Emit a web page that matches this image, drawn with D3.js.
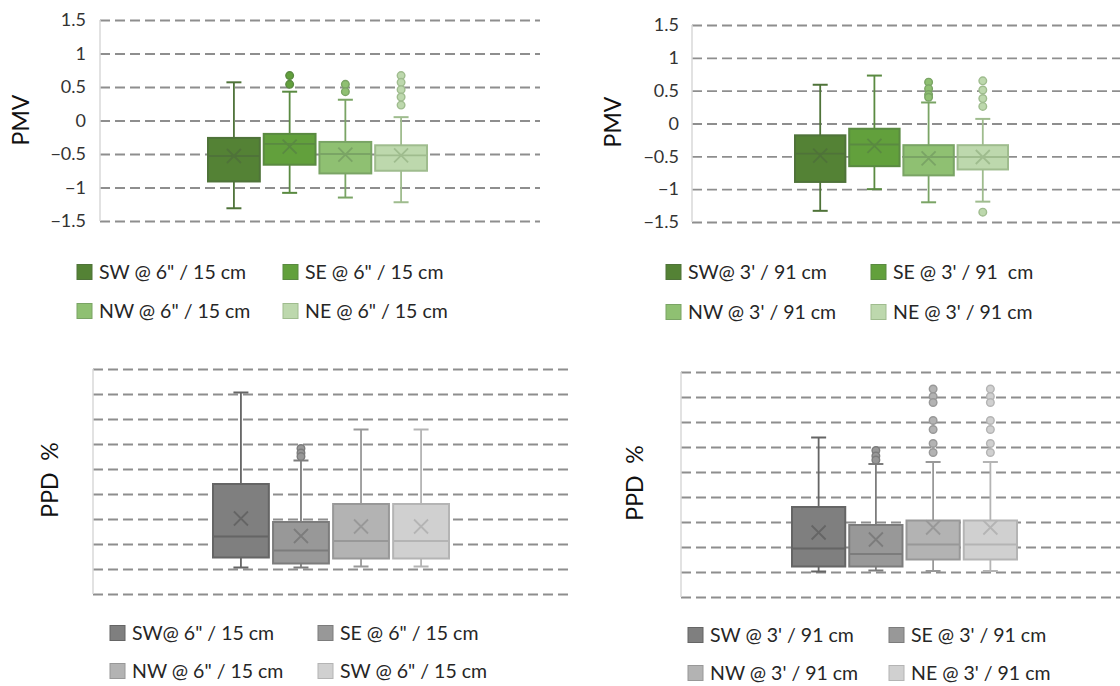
<!DOCTYPE html>
<html>
<head>
<meta charset="utf-8">
<script src="https://cdn.jsdelivr.net/npm/d3@7"></script>
<style>
    body { margin: 0; background: #fff; }
    svg { display: block; font-family: Lato, "Open Sans", sans-serif; }
    .legend text { white-space: pre; }
</style>
</head>
<body>
<svg id="chart" width="1120" height="686"></svg>
<script>
// series keys
const seriesKeys = ["SW", "SE", "NW", "NE"];

// legend labels of each panel
const labelsPmv6 = ["SW @ 6\" / 15 cm", "SE @ 6\" / 15 cm", "NW @ 6\" / 15 cm", "NE @ 6\" / 15 cm"];
const labelsPmv3 = ["SW@ 3' / 91 cm", "SE @ 3' / 91  cm", "NW @ 3' / 91 cm", "NE @ 3' / 91 cm"];
const labelsPpd6 = ["SW@ 6\" / 15 cm", "SE @ 6\" / 15 cm", "NW @ 6\" / 15 cm", "SW @ 6\" / 15 cm"];
const labelsPpd3 = ["SW @ 3' / 91 cm", "SE @ 3' / 91 cm", "NW @ 3' / 91 cm", "NE @ 3' / 91 cm"];

// tick values
const pmvTicks = [1.5, 1, 0.5, 0, -0.5, -1, -1.5];
const ppdTicks = [0, 5, 10, 15, 20, 25, 30, 35, 40, 45];

// box stats per series: [lower whisker, q1, median, q3, upper whisker, mean]
const pmv6 = [
    [-1.31, -0.91, -0.53, -0.26, 0.57, -0.53],
    [-1.08, -0.66, -0.35, -0.20, 0.43, -0.39],
    [-1.15, -0.79, -0.50, -0.32, 0.31, -0.51],
    [-1.22, -0.75, -0.52, -0.37, 0.05, -0.52]
];
const pmv6Outliers = [
    [],
    [0.67, 0.54],
    [0.54, 0.43],
    [0.67, 0.57, 0.46, 0.35, 0.23]
];

const pmv3 = [
    [-1.33, -0.89, -0.46, -0.18, 0.59, -0.49],
    [-1.00, -0.65, -0.32, -0.08, 0.73, -0.34],
    [-1.20, -0.79, -0.51, -0.33, 0.32, -0.53],
    [-1.19, -0.70, -0.51, -0.33, 0.07, -0.51]
];
const pmv3Outliers = [
    [],
    [],
    [0.63, 0.53, 0.44, 0.40],
    [0.65, 0.51, 0.38, 0.26, -1.35]
];

const ppd6 = [
    [5.3, 7.3, 11.5, 22.0, 40.3, 15.1],
    [5.3, 6.1, 8.7, 14.4, 26.7, 11.6],
    [5.5, 7.1, 10.6, 18.0, 32.9, 13.5],
    [5.5, 7.1, 10.6, 18.0, 32.9, 13.5]
];
const ppd6Outliers = [
    [],
    [29.1, 28.2, 27.5],
    [],
    []
];

const ppd3 = [
    [5.1, 6.1, 9.7, 18.0, 31.9, 12.9],
    [5.3, 6.1, 8.6, 14.4, 26.6, 11.5],
    [5.2, 7.5, 10.5, 15.3, 27.0, 13.9],
    [5.2, 7.5, 10.5, 15.3, 27.0, 13.9]
];
const ppd3Outliers = [
    [],
    [29.3, 28.2, 27.4],
    [41.6, 40.1, 38.9, 35.3, 33.5, 30.7, 28.9],
    [41.6, 40.1, 38.9, 35.3, 33.5, 30.7, 28.9]
];

// colours
const greenFill = ["#548235", "#62a03c", "#8fc072", "#bdd8ad"];
const greenLine = ["#4f7339", "#5a8a41", "#7aa465", "#9fbc8e"];
const grayFill = ["#7f7f7f", "#989898", "#b3b3b3", "#d0d0d0"];
const grayLine = ["#656565", "#7c7c7c", "#989898", "#b4b4b4"];

const svg = d3.select("#chart");

function drawPanel(p) {
    const g = svg.append("g");

    const y = d3.scaleLinear().domain(p.domain).range([p.bottom, p.top]);
    const x = d3.scaleBand().domain(seriesKeys).range(p.boxRange).paddingInner(0.07);

    // dashed gridlines
    g.append("g")
        .attr("transform", `translate(${p.left},0)`)
        .call(d3.axisLeft(y).tickValues(p.ticks).tickSize(-(p.right - p.left)).tickFormat(""))
        .call(a => a.select(".domain").remove())
        .call(a => a.selectAll(".tick line")
            .attr("stroke", "#8e8e8e")
            .attr("stroke-width", 1.8)
            .attr("stroke-dasharray", "10,5"));

    // vertical axis line
    g.append("line")
        .attr("x1", p.left).attr("x2", p.left)
        .attr("y1", y(p.domain[1])).attr("y2", y(p.domain[0]))
        .attr("stroke", "#d9d9d9")
        .attr("stroke-width", 1.5);

    // tick labels
    if (p.showLabels) {
        g.append("g")
            .attr("transform", `translate(${p.labelX},0)`)
            .call(d3.axisLeft(y).tickValues(p.ticks).tickSize(0).tickPadding(0).tickFormat(d3.format("")))
            .call(a => a.select(".domain").remove())
            .call(a => a.selectAll("text")
                .attr("fill", "#333")
                .style("font-size", "18px")
                .style("font-family", "Lato, sans-serif"));
    }

    // axis title
    g.append("text")
        .attr("transform", `translate(${p.titleX},${p.titleY}) rotate(-90)`)
        .attr("text-anchor", "middle")
        .attr("dy", "0.35em")
        .attr("fill", "#111")
        .style("font-size", "23px")
        .style("white-space", "pre")
        .text(p.title);

    const bw = x.bandwidth();
    const capW = 15;

    const box = g.selectAll(".box")
        .data(p.stats)
        .join("g")
        .attr("class", "box")
        .attr("transform", (d, i) => `translate(${x(seriesKeys[i])},0)`);

    // whiskers
    box.append("line")
        .attr("x1", bw / 2).attr("x2", bw / 2)
        .attr("y1", d => y(d[0])).attr("y2", d => y(d[4]))
        .attr("stroke", (d, i) => p.line[i])
        .attr("stroke-width", 1.8);

    box.each(function (d, i) {
        d3.select(this).selectAll(".cap")
            .data([d[0], d[4]])
            .join("line")
            .attr("class", "cap")
            .attr("x1", bw / 2 - capW / 2).attr("x2", bw / 2 + capW / 2)
            .attr("y1", v => y(v)).attr("y2", v => y(v))
            .attr("stroke", p.line[i])
            .attr("stroke-width", 2);
    });

    // box
    box.append("rect")
        .attr("x", 0)
        .attr("width", bw)
        .attr("y", d => y(d[3]))
        .attr("height", d => y(d[1]) - y(d[3]))
        .attr("fill", (d, i) => p.fill[i])
        .attr("stroke", (d, i) => p.line[i])
        .attr("stroke-width", 2);

    // median
    box.append("line")
        .attr("x1", 0).attr("x2", bw)
        .attr("y1", d => y(d[2])).attr("y2", d => y(d[2]))
        .attr("stroke", (d, i) => p.line[i])
        .attr("stroke-width", 1.8);

    // mean marker
    const m = 7;
    box.append("path")
        .attr("d", d => {
            const cy = y(d[5]), cx = bw / 2;
            return `M${cx - m},${cy - m}L${cx + m},${cy + m}M${cx - m},${cy + m}L${cx + m},${cy - m}`;
        })
        .attr("fill", "none")
        .attr("stroke", (d, i) => p.line[i])
        .attr("stroke-width", 1.8);

    // outliers
    box.each(function (d, i) {
        d3.select(this).selectAll(".out")
            .data(p.outliers[i])
            .join("circle")
            .attr("class", "out")
            .attr("cx", bw / 2)
            .attr("cy", v => y(v))
            .attr("r", 3.8)
            .attr("fill", p.fill[i])
            .attr("stroke", p.line[i])
            .attr("stroke-width", 1.4);
    });

    // legend
    const leg = g.append("g").attr("class", "legend");
    p.labels.forEach((lab, i) => {
        const lx = p.legendX[i % 2];
        const ly = p.legendY[Math.floor(i / 2)];
        leg.append("rect")
            .attr("x", lx).attr("y", ly - 7.5)
            .attr("width", 15).attr("height", 15)
            .attr("fill", p.fill[i])
            .attr("stroke", p.line[i])
            .attr("stroke-width", 1);
        leg.append("text")
            .attr("x", lx + 22).attr("y", ly)
            .attr("dy", "0.35em")
            .attr("fill", "#262626")
            .style("font-size", "19.5px")
            .text(lab);
    });
}

drawPanel({
    domain: [-1.5, 1.5], ticks: pmvTicks, top: 20, bottom: 221,
    left: 100, right: 540, boxRange: [208, 427],
    showLabels: true, labelX: 86,
    title: "PMV", titleX: 21, titleY: 120,
    stats: pmv6, outliers: pmv6Outliers, fill: greenFill, line: greenLine,
    labels: labelsPmv6, legendX: [77, 283], legendY: [272, 311]
});

drawPanel({
    domain: [-1.5, 1.5], ticks: pmvTicks, top: 25, bottom: 222,
    left: 692, right: 1120, boxRange: [795, 1008],
    showLabels: true, labelX: 679,
    title: "PMV", titleX: 613, titleY: 122,
    stats: pmv3, outliers: pmv3Outliers, fill: greenFill, line: greenLine,
    labels: labelsPmv3, legendX: [666, 871], legendY: [272, 312]
});

drawPanel({
    domain: [0, 45], ticks: ppdTicks, top: 369, bottom: 594,
    left: 93, right: 570, boxRange: [213, 449],
    showLabels: false,
    title: "PPD  %", titleX: 50, titleY: 480,
    stats: ppd6, outliers: ppd6Outliers, fill: grayFill, line: grayLine,
    labels: labelsPpd6, legendX: [110, 318], legendY: [633, 671]
});

drawPanel({
    domain: [0, 45], ticks: ppdTicks, top: 372, bottom: 597,
    left: 681, right: 1120, boxRange: [792, 1017],
    showLabels: false,
    title: "PPD  %", titleX: 635, titleY: 483,
    stats: ppd3, outliers: ppd3Outliers, fill: grayFill, line: grayLine,
    labels: labelsPpd3, legendX: [688, 889], legendY: [635, 673]
});
</script>
</body>
</html>
